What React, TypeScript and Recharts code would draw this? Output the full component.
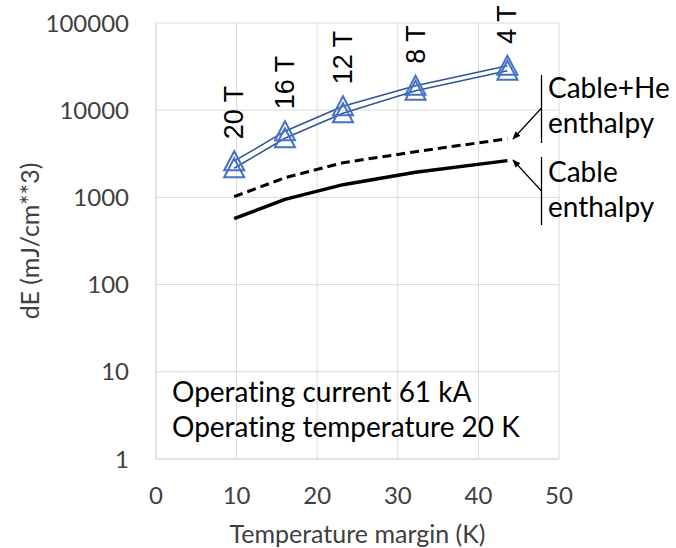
import React from "react";
import {
  LineChart,
  Line,
  XAxis,
  YAxis,
  CartesianGrid,
  LabelList,
} from "recharts";

// temperature margin (K) at each field point
const tempMargin = [9.7, 16.0, 23.2, 32.2, 43.6];
const fieldLabels = ["20 T", "16 T", "12 T", "8 T", "4 T"];

// dE (mJ/cm**3)
const dEUpper = [2600, 5740, 11100, 19100, 32400];
const dELower = [2160, 4770, 9240, 16700, 28400];
const cableHeEnthalpy = [1020, 1680, 2500, 3340, 4710];
const cableEnthalpy = [570, 950, 1400, 1940, 2640];

const xTicks = [0, 10, 20, 30, 40, 50];
const yTicks = [1, 10, 100, 1000, 10000, 100000];

const rows = (values: number[]) =>
  tempMargin.map((t, i) => ({ t, v: values[i], label: fieldLabels[i] }));

const upperData = rows(dEUpper);
const lowerData = rows(dELower);
const heData = rows(cableHeEnthalpy);
const cableData = rows(cableEnthalpy);

const FONT = "Lato, 'Noto Sans', sans-serif";
const GRID = "#d9d9d9";
const TICK = "#404040";

const Triangle = (props: any) => {
  const { cx, cy } = props;
  if (cx == null || cy == null) return null;
  return (
    <path
      d={`M${cx},${cy - 10} L${cx + 10},${cy + 9} L${cx - 10},${cy + 9} Z`}
      fill="none"
      stroke="#4472C4"
      strokeWidth={2}
    />
  );
};

const FieldLabel = (props: any) => {
  const { x, y, value } = props;
  return (
    <text
      transform={`translate(${x},${y - 22}) rotate(-90)`}
      textAnchor="start"
      dominantBaseline="central"
      fontFamily="'Liberation Sans', Arial, sans-serif"
      fontSize={27}
      fill="#000"
    >
      {value}
    </text>
  );
};

export default function App() {
  return (
    <div style={{ position: "relative", width: 676, height: 548 }}>
      <style>{`body{margin:0} text{font-variant-ligatures:none}`}</style>
      <LineChart
        width={676}
        height={548}
        margin={{ top: 23, right: 117, bottom: 0, left: 0 }}
      >
        <CartesianGrid stroke={GRID} strokeWidth={1} />
        <XAxis
          type="number"
          dataKey="t"
          domain={[0, 50]}
          ticks={xTicks}
          height={89}
          tickSize={0}
          tickMargin={28}
          axisLine={{ stroke: GRID }}
          tick={{ fill: TICK, fontSize: 24, fontFamily: FONT }}
          label={{
            value: "Temperature margin (K)",
            position: "insideBottom",
            offset: 5,
            style: { fill: TICK, fontSize: 25, fontFamily: FONT },
          }}
        />
        <YAxis
          type="number"
          scale="log"
          domain={[1, 100000]}
          ticks={yTicks}
          allowDataOverflow
          width={156}
          tickSize={0}
          tickMargin={27}
          axisLine={{ stroke: GRID }}
          tick={{ fill: TICK, fontSize: 24, fontFamily: FONT }}
          label={{
            value: "dE (mJ/cm**3)",
            angle: -90,
            position: "insideLeft",
            offset: 30,
            style: {
              fill: TICK,
              fontSize: 25,
              fontFamily: FONT,
              textAnchor: "middle",
            },
          }}
        />
        <Line
          data={cableData}
          dataKey="v"
          type="linear"
          stroke="#000"
          strokeWidth={3.5}
          dot={false}
          isAnimationActive={false}
        />
        <Line
          data={heData}
          dataKey="v"
          type="linear"
          stroke="#000"
          strokeWidth={3}
          strokeDasharray="9 5"
          dot={false}
          isAnimationActive={false}
        />
        <Line
          data={lowerData}
          dataKey="v"
          type="linear"
          stroke="#2F5597"
          strokeWidth={1.5}
          dot={<Triangle />}
          isAnimationActive={false}
        />
        <Line
          data={upperData}
          dataKey="v"
          type="linear"
          stroke="#2F5597"
          strokeWidth={1.5}
          dot={<Triangle />}
          isAnimationActive={false}
        >
          <LabelList dataKey="label" content={<FieldLabel />} />
        </Line>
      </LineChart>
      <svg
        width={676}
        height={548}
        style={{ position: "absolute", left: 0, top: 0, pointerEvents: "none" }}
      >
        <defs>
          <marker
            id="arrow"
            viewBox="0 0 10 10"
            refX="9"
            refY="5"
            markerWidth="7"
            markerHeight="7"
            orient="auto"
          >
            <path d="M0,1 L10,5 L0,9 Z" fill="#000" />
          </marker>
        </defs>
        <g fontFamily={FONT} fontSize={28} fill="#000">
          <text x={172} y={402}>Operating current 61 kA</text>
          <text x={172} y={437}>Operating temperature 20 K</text>
          <text x={548} y={98}>Cable+He</text>
          <text x={548} y={133}>enthalpy</text>
          <text x={548} y={182}>Cable</text>
          <text x={548} y={217}>enthalpy</text>
        </g>
        <line x1={541.5} y1={75} x2={541.5} y2={143} stroke="#000" strokeWidth={1.3} />
        <line x1={541.5} y1={157} x2={541.5} y2={225} stroke="#000" strokeWidth={1.3} />
        <line
          x1={541.5}
          y1={108}
          x2={513}
          y2={139}
          stroke="#000"
          strokeWidth={1.2}
          markerEnd="url(#arrow)"
        />
        <line
          x1={541.5}
          y1={191}
          x2={513}
          y2={160}
          stroke="#000"
          strokeWidth={1.2}
          markerEnd="url(#arrow)"
        />
      </svg>
    </div>
  );
}
